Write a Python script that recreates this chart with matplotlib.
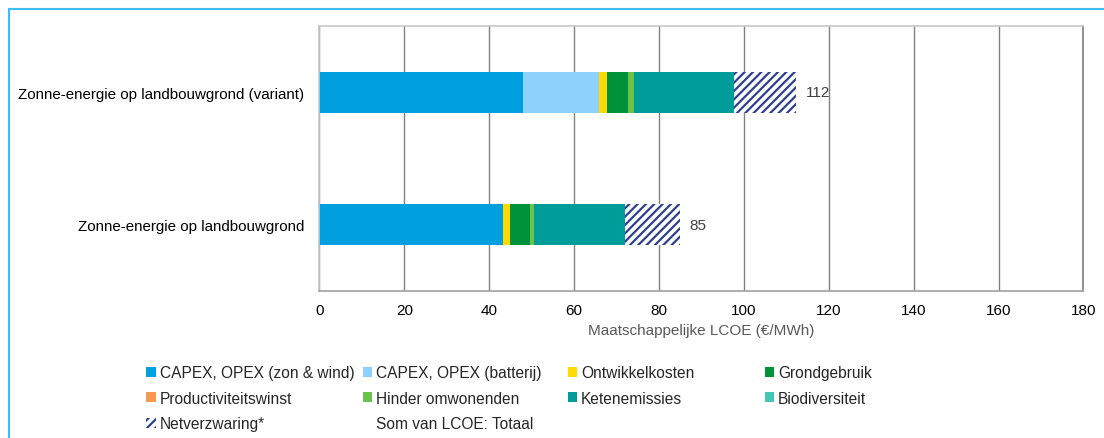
import matplotlib.pyplot as plt
import numpy as np
from matplotlib.patches import Patch
from matplotlib.lines import Line2D

plt.rcParams['font.family'] = ['Liberation Sans', 'DejaVu Sans']
plt.rcParams['font.size'] = 10
plt.rcParams['hatch.linewidth'] = 1.6

categories = ['Zonne-energie op landbouwgrond', 'Zonne-energie op landbouwgrond (variant)']
series = ['CAPEX, OPEX (zon & wind)', 'CAPEX, OPEX (batterij)', 'Ontwikkelkosten', 'Grondgebruik',
          'Productiviteitswinst', 'Hinder omwonenden', 'Ketenemissies', 'Biodiversiteit', 'Netverzwaring*']
capex_zon = [43.2, 47.9]
capex_bat = [0.0, 18.0]
ontwikkel = [1.7, 1.9]
grond = [4.6, 5.0]
productiviteit = [0.0, 0.0]
hinder = [1.1, 1.2]
keten = [21.3, 23.6]
biodiv = [0.0, 0.0]
netverzwaring = [13.0, 14.7]
totaal = [85, 112]

colors = ['#009fe0', '#8dd1fc', '#ffda00', '#00923a', '#f59a4e', '#6cc24a', '#009c9a', '#44c8b5']
values = [capex_zon, capex_bat, ontwikkel, grond, productiviteit, hinder, keten, biodiv]

fig = plt.figure(figsize=(11.04, 4.39), dpi=100)
ax = fig.add_axes([0.2894, 0.3355, 0.692, 0.603])

y = np.arange(len(categories))
h = 0.31
left = np.zeros(len(categories))
handles = []
for name, vals, col in zip(series[:-1], values, colors):
    ax.barh(y, vals, h, left=left, color=col, linewidth=0)
    left += np.array(vals)
    handles.append(Patch(facecolor=col, label=name))
net = ax.barh(y, netverzwaring, h, left=left, facecolor='white', edgecolor='#2e3f8f',
              hatch='////', linewidth=0)
ax.bar_label(net, labels=[str(t) for t in totaal], padding=7, fontsize=11, color='#404040')
handles.append(Patch(facecolor='white', edgecolor='#2e3f8f', hatch='////', linewidth=0,
                     label=series[-1]))
handles.append(Patch(facecolor='none', edgecolor='none', label='Som van LCOE: Totaal'))

ax.set_xlim(0, 180)
ax.set_ylim(-0.5, 1.5)
ax.set_xticks(np.arange(0, 181, 20))
ax.set_yticks(y)
ax.set_yticklabels(categories, fontsize=10.9)
ax.tick_params(axis='y', length=0, pad=11)
ax.tick_params(axis='x', length=0, pad=9, labelsize=11)
ax.xaxis.grid(True, color='#808080', linewidth=1)
ax.set_axisbelow(True)
for s in ['top', 'left']:
    ax.spines[s].set_color('#c8c8c8')
ax.spines['bottom'].set_color('#a0a0a0')
ax.spines['right'].set_color('#808080')
for s in ax.spines.values():
    s.set_linewidth(1.2)
ax.set_xlabel('Maatschappelijke LCOE (€/MWh)', color='#595959', fontsize=11, labelpad=4)

# legend: four separate columns, like the original's evenly spaced grid
cols = [[0, 4, 8], [1, 5, 9], [2, 6], [3, 7]]
xs = [0.1325, 0.3285, 0.5145, 0.6928]
for idx, xc in zip(cols, xs):
    leg = fig.legend(handles=[handles[i] for i in idx], loc='upper left',
                     bbox_to_anchor=(xc, 0.166), frameon=False, fontsize=11.2,
                     handlelength=0.6, handleheight=0.6, handletextpad=0.25,
                     labelspacing=0.68, borderaxespad=0, borderpad=0)
    for t in leg.get_texts():
        t.set_color('#262626')

fig.add_artist(Line2D([0.0086, 1.0], [0.977, 0.977], color='#3bbfef', linewidth=1.5))
fig.add_artist(Line2D([0.0086, 0.0086], [0.0, 0.977], color='#3bbfef', linewidth=1.5))

fig.savefig('out.png', dpi=100)
